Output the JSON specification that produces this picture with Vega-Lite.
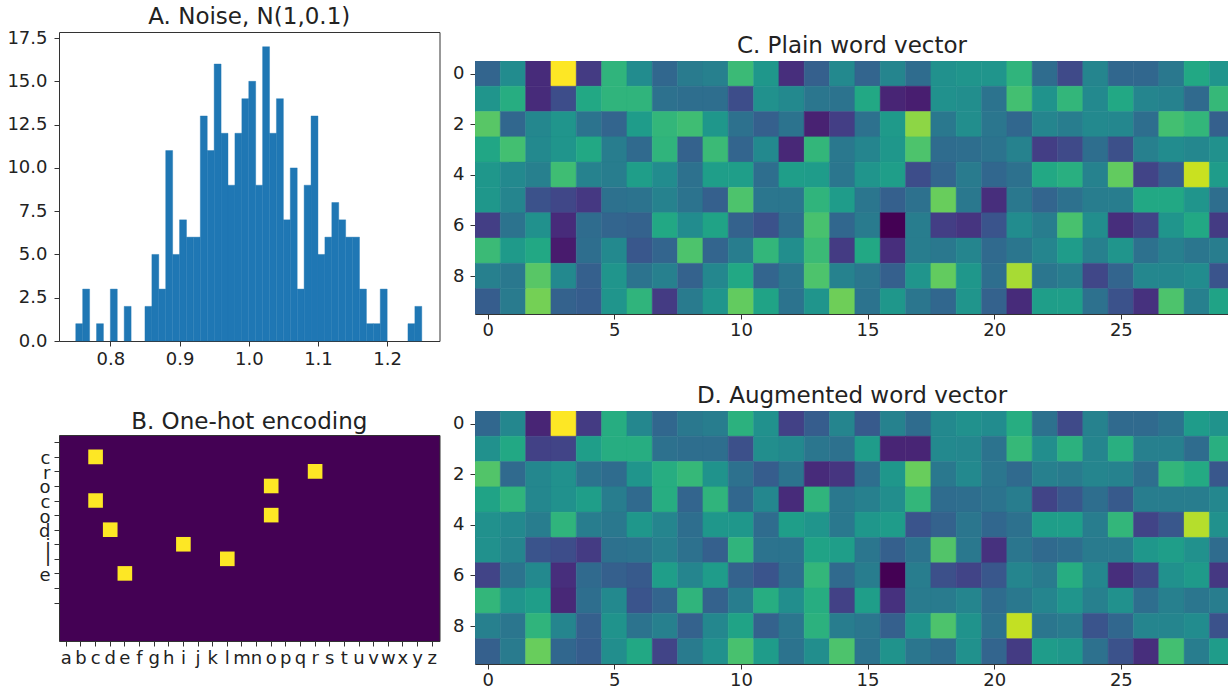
{"$schema":"https://vega.github.io/schema/vega-lite/v6.json","padding":{"left":6,"top":5,"right":0,"bottom":0},"background":"white","spacing":12,"config":{"font":"DejaVu Sans","view":{"stroke":"#333"},"title":{"font":"DejaVu Sans","fontSize":23,"fontWeight":"normal","color":"#222"},"axis":{"grid":false,"title":null,"labelFont":"DejaVu Sans","labelFontSize":18,"labelColor":"#222","tickColor":"#333","domain":false,"tickSize":5,"labelPadding":4,"labelOverlap":false,"labelFlush":false}},
"datasets":{
"hist":[{"x0":0.75,"x1":0.76,"n":1},{"x0":0.76,"x1":0.77,"n":3},{"x0":0.78,"x1":0.79,"n":1},{"x0":0.80,"x1":0.81,"n":3},{"x0":0.82,"x1":0.83,"n":2},{"x0":0.85,"x1":0.86,"n":2},{"x0":0.86,"x1":0.87,"n":5},{"x0":0.87,"x1":0.88,"n":3},{"x0":0.88,"x1":0.89,"n":11},{"x0":0.89,"x1":0.90,"n":5},{"x0":0.90,"x1":0.91,"n":7},{"x0":0.91,"x1":0.92,"n":6},{"x0":0.92,"x1":0.93,"n":6},{"x0":0.93,"x1":0.94,"n":13},{"x0":0.94,"x1":0.95,"n":11},{"x0":0.95,"x1":0.96,"n":16},{"x0":0.96,"x1":0.97,"n":12},{"x0":0.97,"x1":0.98,"n":9},{"x0":0.98,"x1":0.99,"n":12},{"x0":0.99,"x1":1.00,"n":14},{"x0":1.00,"x1":1.01,"n":15},{"x0":1.01,"x1":1.02,"n":9},{"x0":1.02,"x1":1.03,"n":17},{"x0":1.03,"x1":1.04,"n":12},{"x0":1.04,"x1":1.05,"n":14},{"x0":1.05,"x1":1.06,"n":7},{"x0":1.06,"x1":1.07,"n":10},{"x0":1.07,"x1":1.08,"n":3},{"x0":1.08,"x1":1.09,"n":9},{"x0":1.09,"x1":1.10,"n":13},{"x0":1.10,"x1":1.11,"n":5},{"x0":1.11,"x1":1.12,"n":6},{"x0":1.12,"x1":1.13,"n":8},{"x0":1.13,"x1":1.14,"n":7},{"x0":1.14,"x1":1.15,"n":6},{"x0":1.15,"x1":1.16,"n":6},{"x0":1.16,"x1":1.17,"n":3},{"x0":1.17,"x1":1.18,"n":1},{"x0":1.18,"x1":1.19,"n":1},{"x0":1.19,"x1":1.20,"n":3},{"x0":1.23,"x1":1.24,"n":1},{"x0":1.24,"x1":1.25,"n":2}],
"onehot":[{"row":1,"letter":"c","v":1},{"row":2,"letter":"r","v":1},{"row":3,"letter":"o","v":1},{"row":4,"letter":"c","v":1},{"row":5,"letter":"o","v":1},{"row":6,"letter":"d","v":1},{"row":7,"letter":"i","v":1},{"row":8,"letter":"l","v":1},{"row":9,"letter":"e","v":1}],
"plain":[
{"r":0,"c":0,"v":0.32},{"r":0,"c":1,"v":0.48},{"r":0,"c":2,"v":0.12},{"r":0,"c":3,"v":1},{"r":0,"c":4,"v":0.17},{"r":0,"c":5,"v":0.65},{"r":0,"c":6,"v":0.48},{"r":0,"c":7,"v":0.33},{"r":0,"c":8,"v":0.41},{"r":0,"c":9,"v":0.43},{"r":0,"c":10,"v":0.68},{"r":0,"c":11,"v":0.53},{"r":0,"c":12,"v":0.13},{"r":0,"c":13,"v":0.3},{"r":0,"c":14,"v":0.47},{"r":0,"c":15,"v":0.32},{"r":0,"c":16,"v":0.45},{"r":0,"c":17,"v":0.35},{"r":0,"c":18,"v":0.5},{"r":0,"c":19,"v":0.52},{"r":0,"c":20,"v":0.52},{"r":0,"c":21,"v":0.65},{"r":0,"c":22,"v":0.35},{"r":0,"c":23,"v":0.22},{"r":0,"c":24,"v":0.45},{"r":0,"c":25,"v":0.33},{"r":0,"c":26,"v":0.33},{"r":0,"c":27,"v":0.4},{"r":0,"c":28,"v":0.6},{"r":0,"c":29,"v":0.52},
{"r":1,"c":0,"v":0.52},{"r":1,"c":1,"v":0.62},{"r":1,"c":2,"v":0.12},{"r":1,"c":3,"v":0.23},{"r":1,"c":4,"v":0.6},{"r":1,"c":5,"v":0.65},{"r":1,"c":6,"v":0.65},{"r":1,"c":7,"v":0.37},{"r":1,"c":8,"v":0.36},{"r":1,"c":9,"v":0.36},{"r":1,"c":10,"v":0.23},{"r":1,"c":11,"v":0.5},{"r":1,"c":12,"v":0.47},{"r":1,"c":13,"v":0.39},{"r":1,"c":14,"v":0.38},{"r":1,"c":15,"v":0.6},{"r":1,"c":16,"v":0.1},{"r":1,"c":17,"v":0.08},{"r":1,"c":18,"v":0.5},{"r":1,"c":19,"v":0.49},{"r":1,"c":20,"v":0.38},{"r":1,"c":21,"v":0.7},{"r":1,"c":22,"v":0.51},{"r":1,"c":23,"v":0.66},{"r":1,"c":24,"v":0.47},{"r":1,"c":25,"v":0.6},{"r":1,"c":26,"v":0.45},{"r":1,"c":27,"v":0.44},{"r":1,"c":28,"v":0.34},{"r":1,"c":29,"v":0.67},
{"r":2,"c":0,"v":0.74},{"r":2,"c":1,"v":0.33},{"r":2,"c":2,"v":0.46},{"r":2,"c":3,"v":0.52},{"r":2,"c":4,"v":0.38},{"r":2,"c":5,"v":0.32},{"r":2,"c":6,"v":0.55},{"r":2,"c":7,"v":0.66},{"r":2,"c":8,"v":0.69},{"r":2,"c":9,"v":0.53},{"r":2,"c":10,"v":0.37},{"r":2,"c":11,"v":0.3},{"r":2,"c":12,"v":0.38},{"r":2,"c":13,"v":0.09},{"r":2,"c":14,"v":0.18},{"r":2,"c":15,"v":0.37},{"r":2,"c":16,"v":0.54},{"r":2,"c":17,"v":0.83},{"r":2,"c":18,"v":0.4},{"r":2,"c":19,"v":0.49},{"r":2,"c":20,"v":0.39},{"r":2,"c":21,"v":0.33},{"r":2,"c":22,"v":0.45},{"r":2,"c":23,"v":0.42},{"r":2,"c":24,"v":0.47},{"r":2,"c":25,"v":0.46},{"r":2,"c":26,"v":0.36},{"r":2,"c":27,"v":0.7},{"r":2,"c":28,"v":0.66},{"r":2,"c":29,"v":0.3},
{"r":3,"c":0,"v":0.59},{"r":3,"c":1,"v":0.7},{"r":3,"c":2,"v":0.47},{"r":3,"c":3,"v":0.52},{"r":3,"c":4,"v":0.6},{"r":3,"c":5,"v":0.42},{"r":3,"c":6,"v":0.34},{"r":3,"c":7,"v":0.65},{"r":3,"c":8,"v":0.31},{"r":3,"c":9,"v":0.68},{"r":3,"c":10,"v":0.32},{"r":3,"c":11,"v":0.47},{"r":3,"c":12,"v":0.11},{"r":3,"c":13,"v":0.66},{"r":3,"c":14,"v":0.4},{"r":3,"c":15,"v":0.45},{"r":3,"c":16,"v":0.53},{"r":3,"c":17,"v":0.72},{"r":3,"c":18,"v":0.35},{"r":3,"c":19,"v":0.36},{"r":3,"c":20,"v":0.38},{"r":3,"c":21,"v":0.44},{"r":3,"c":22,"v":0.18},{"r":3,"c":23,"v":0.22},{"r":3,"c":24,"v":0.36},{"r":3,"c":25,"v":0.24},{"r":3,"c":26,"v":0.43},{"r":3,"c":27,"v":0.48},{"r":3,"c":28,"v":0.46},{"r":3,"c":29,"v":0.5},
{"r":4,"c":0,"v":0.53},{"r":4,"c":1,"v":0.47},{"r":4,"c":2,"v":0.43},{"r":4,"c":3,"v":0.69},{"r":4,"c":4,"v":0.44},{"r":4,"c":5,"v":0.42},{"r":4,"c":6,"v":0.56},{"r":4,"c":7,"v":0.48},{"r":4,"c":8,"v":0.37},{"r":4,"c":9,"v":0.56},{"r":4,"c":10,"v":0.56},{"r":4,"c":11,"v":0.36},{"r":4,"c":12,"v":0.56},{"r":4,"c":13,"v":0.55},{"r":4,"c":14,"v":0.39},{"r":4,"c":15,"v":0.52},{"r":4,"c":16,"v":0.56},{"r":4,"c":17,"v":0.23},{"r":4,"c":18,"v":0.32},{"r":4,"c":19,"v":0.41},{"r":4,"c":20,"v":0.33},{"r":4,"c":21,"v":0.37},{"r":4,"c":22,"v":0.6},{"r":4,"c":23,"v":0.63},{"r":4,"c":24,"v":0.44},{"r":4,"c":25,"v":0.76},{"r":4,"c":26,"v":0.2},{"r":4,"c":27,"v":0.29},{"r":4,"c":28,"v":0.92},{"r":4,"c":29,"v":0.55},
{"r":5,"c":0,"v":0.53},{"r":5,"c":1,"v":0.45},{"r":5,"c":2,"v":0.25},{"r":5,"c":3,"v":0.21},{"r":5,"c":4,"v":0.16},{"r":5,"c":5,"v":0.37},{"r":5,"c":6,"v":0.38},{"r":5,"c":7,"v":0.44},{"r":5,"c":8,"v":0.38},{"r":5,"c":9,"v":0.3},{"r":5,"c":10,"v":0.72},{"r":5,"c":11,"v":0.39},{"r":5,"c":12,"v":0.39},{"r":5,"c":13,"v":0.65},{"r":5,"c":14,"v":0.55},{"r":5,"c":15,"v":0.39},{"r":5,"c":16,"v":0.3},{"r":5,"c":17,"v":0.37},{"r":5,"c":18,"v":0.77},{"r":5,"c":19,"v":0.4},{"r":5,"c":20,"v":0.13},{"r":5,"c":21,"v":0.4},{"r":5,"c":22,"v":0.32},{"r":5,"c":23,"v":0.37},{"r":5,"c":24,"v":0.42},{"r":5,"c":25,"v":0.42},{"r":5,"c":26,"v":0.6},{"r":5,"c":27,"v":0.6},{"r":5,"c":28,"v":0.52},{"r":5,"c":29,"v":0.36},
{"r":6,"c":0,"v":0.18},{"r":6,"c":1,"v":0.38},{"r":6,"c":2,"v":0.5},{"r":6,"c":3,"v":0.12},{"r":6,"c":4,"v":0.35},{"r":6,"c":5,"v":0.32},{"r":6,"c":6,"v":0.31},{"r":6,"c":7,"v":0.6},{"r":6,"c":8,"v":0.48},{"r":6,"c":9,"v":0.58},{"r":6,"c":10,"v":0.31},{"r":6,"c":11,"v":0.25},{"r":6,"c":12,"v":0.36},{"r":6,"c":13,"v":0.71},{"r":6,"c":14,"v":0.33},{"r":6,"c":15,"v":0.41},{"r":6,"c":16,"v":0},{"r":6,"c":17,"v":0.42},{"r":6,"c":18,"v":0.18},{"r":6,"c":19,"v":0.15},{"r":6,"c":20,"v":0.26},{"r":6,"c":21,"v":0.48},{"r":6,"c":22,"v":0.42},{"r":6,"c":23,"v":0.71},{"r":6,"c":24,"v":0.49},{"r":6,"c":25,"v":0.13},{"r":6,"c":26,"v":0.2},{"r":6,"c":27,"v":0.52},{"r":6,"c":28,"v":0.6},{"r":6,"c":29,"v":0.17},
{"r":7,"c":0,"v":0.68},{"r":7,"c":1,"v":0.54},{"r":7,"c":2,"v":0.6},{"r":7,"c":3,"v":0.07},{"r":7,"c":4,"v":0.36},{"r":7,"c":5,"v":0.47},{"r":7,"c":6,"v":0.27},{"r":7,"c":7,"v":0.32},{"r":7,"c":8,"v":0.72},{"r":7,"c":9,"v":0.32},{"r":7,"c":10,"v":0.42},{"r":7,"c":11,"v":0.66},{"r":7,"c":12,"v":0.49},{"r":7,"c":13,"v":0.68},{"r":7,"c":14,"v":0.17},{"r":7,"c":15,"v":0.6},{"r":7,"c":16,"v":0.13},{"r":7,"c":17,"v":0.42},{"r":7,"c":18,"v":0.4},{"r":7,"c":19,"v":0.45},{"r":7,"c":20,"v":0.34},{"r":7,"c":21,"v":0.39},{"r":7,"c":22,"v":0.45},{"r":7,"c":23,"v":0.55},{"r":7,"c":24,"v":0.43},{"r":7,"c":25,"v":0.52},{"r":7,"c":26,"v":0.37},{"r":7,"c":27,"v":0.43},{"r":7,"c":28,"v":0.39},{"r":7,"c":29,"v":0.42},
{"r":8,"c":0,"v":0.43},{"r":8,"c":1,"v":0.4},{"r":8,"c":2,"v":0.74},{"r":8,"c":3,"v":0.47},{"r":8,"c":4,"v":0.3},{"r":8,"c":5,"v":0.52},{"r":8,"c":6,"v":0.38},{"r":8,"c":7,"v":0.43},{"r":8,"c":8,"v":0.31},{"r":8,"c":9,"v":0.46},{"r":8,"c":10,"v":0.6},{"r":8,"c":11,"v":0.32},{"r":8,"c":12,"v":0.39},{"r":8,"c":13,"v":0.72},{"r":8,"c":14,"v":0.44},{"r":8,"c":15,"v":0.39},{"r":8,"c":16,"v":0.3},{"r":8,"c":17,"v":0.52},{"r":8,"c":18,"v":0.76},{"r":8,"c":19,"v":0.53},{"r":8,"c":20,"v":0.36},{"r":8,"c":21,"v":0.87},{"r":8,"c":22,"v":0.39},{"r":8,"c":23,"v":0.42},{"r":8,"c":24,"v":0.21},{"r":8,"c":25,"v":0.32},{"r":8,"c":26,"v":0.46},{"r":8,"c":27,"v":0.46},{"r":8,"c":28,"v":0.48},{"r":8,"c":29,"v":0.26},
{"r":9,"c":0,"v":0.29},{"r":9,"c":1,"v":0.41},{"r":9,"c":2,"v":0.79},{"r":9,"c":3,"v":0.31},{"r":9,"c":4,"v":0.29},{"r":9,"c":5,"v":0.52},{"r":9,"c":6,"v":0.65},{"r":9,"c":7,"v":0.17},{"r":9,"c":8,"v":0.41},{"r":9,"c":9,"v":0.52},{"r":9,"c":10,"v":0.76},{"r":9,"c":11,"v":0.58},{"r":9,"c":12,"v":0.38},{"r":9,"c":13,"v":0.52},{"r":9,"c":14,"v":0.78},{"r":9,"c":15,"v":0.38},{"r":9,"c":16,"v":0.53},{"r":9,"c":17,"v":0.39},{"r":9,"c":18,"v":0.33},{"r":9,"c":19,"v":0.52},{"r":9,"c":20,"v":0.31},{"r":9,"c":21,"v":0.12},{"r":9,"c":22,"v":0.56},{"r":9,"c":23,"v":0.56},{"r":9,"c":24,"v":0.37},{"r":9,"c":25,"v":0.25},{"r":9,"c":26,"v":0.14},{"r":9,"c":27,"v":0.72},{"r":9,"c":28,"v":0.43},{"r":9,"c":29,"v":0.58}],
"aug":[
{"r":0,"c":0,"v":0.33},{"r":0,"c":1,"v":0.46},{"r":0,"c":2,"v":0.1},{"r":0,"c":3,"v":1},{"r":0,"c":4,"v":0.17},{"r":0,"c":5,"v":0.62},{"r":0,"c":6,"v":0.46},{"r":0,"c":7,"v":0.33},{"r":0,"c":8,"v":0.4},{"r":0,"c":9,"v":0.42},{"r":0,"c":10,"v":0.64},{"r":0,"c":11,"v":0.5},{"r":0,"c":12,"v":0.19},{"r":0,"c":13,"v":0.29},{"r":0,"c":14,"v":0.45},{"r":0,"c":15,"v":0.28},{"r":0,"c":16,"v":0.44},{"r":0,"c":17,"v":0.35},{"r":0,"c":18,"v":0.47},{"r":0,"c":19,"v":0.5},{"r":0,"c":20,"v":0.48},{"r":0,"c":21,"v":0.62},{"r":0,"c":22,"v":0.37},{"r":0,"c":23,"v":0.22},{"r":0,"c":24,"v":0.44},{"r":0,"c":25,"v":0.34},{"r":0,"c":26,"v":0.34},{"r":0,"c":27,"v":0.38},{"r":0,"c":28,"v":0.55},{"r":0,"c":29,"v":0.51},
{"r":1,"c":0,"v":0.5},{"r":1,"c":1,"v":0.6},{"r":1,"c":2,"v":0.19},{"r":1,"c":3,"v":0.2},{"r":1,"c":4,"v":0.56},{"r":1,"c":5,"v":0.62},{"r":1,"c":6,"v":0.62},{"r":1,"c":7,"v":0.37},{"r":1,"c":8,"v":0.36},{"r":1,"c":9,"v":0.36},{"r":1,"c":10,"v":0.24},{"r":1,"c":11,"v":0.49},{"r":1,"c":12,"v":0.47},{"r":1,"c":13,"v":0.39},{"r":1,"c":14,"v":0.37},{"r":1,"c":15,"v":0.55},{"r":1,"c":16,"v":0.1},{"r":1,"c":17,"v":0.1},{"r":1,"c":18,"v":0.47},{"r":1,"c":19,"v":0.46},{"r":1,"c":20,"v":0.38},{"r":1,"c":21,"v":0.67},{"r":1,"c":22,"v":0.49},{"r":1,"c":23,"v":0.64},{"r":1,"c":24,"v":0.45},{"r":1,"c":25,"v":0.63},{"r":1,"c":26,"v":0.43},{"r":1,"c":27,"v":0.43},{"r":1,"c":28,"v":0.35},{"r":1,"c":29,"v":0.63},
{"r":2,"c":0,"v":0.73},{"r":2,"c":1,"v":0.34},{"r":2,"c":2,"v":0.46},{"r":2,"c":3,"v":0.5},{"r":2,"c":4,"v":0.38},{"r":2,"c":5,"v":0.35},{"r":2,"c":6,"v":0.52},{"r":2,"c":7,"v":0.62},{"r":2,"c":8,"v":0.67},{"r":2,"c":9,"v":0.51},{"r":2,"c":10,"v":0.37},{"r":2,"c":11,"v":0.29},{"r":2,"c":12,"v":0.38},{"r":2,"c":13,"v":0.12},{"r":2,"c":14,"v":0.15},{"r":2,"c":15,"v":0.36},{"r":2,"c":16,"v":0.53},{"r":2,"c":17,"v":0.77},{"r":2,"c":18,"v":0.4},{"r":2,"c":19,"v":0.47},{"r":2,"c":20,"v":0.39},{"r":2,"c":21,"v":0.34},{"r":2,"c":22,"v":0.43},{"r":2,"c":23,"v":0.41},{"r":2,"c":24,"v":0.45},{"r":2,"c":25,"v":0.44},{"r":2,"c":26,"v":0.36},{"r":2,"c":27,"v":0.66},{"r":2,"c":28,"v":0.61},{"r":2,"c":29,"v":0.27},
{"r":3,"c":0,"v":0.58},{"r":3,"c":1,"v":0.65},{"r":3,"c":2,"v":0.46},{"r":3,"c":3,"v":0.5},{"r":3,"c":4,"v":0.56},{"r":3,"c":5,"v":0.42},{"r":3,"c":6,"v":0.34},{"r":3,"c":7,"v":0.62},{"r":3,"c":8,"v":0.32},{"r":3,"c":9,"v":0.65},{"r":3,"c":10,"v":0.33},{"r":3,"c":11,"v":0.46},{"r":3,"c":12,"v":0.12},{"r":3,"c":13,"v":0.65},{"r":3,"c":14,"v":0.4},{"r":3,"c":15,"v":0.43},{"r":3,"c":16,"v":0.49},{"r":3,"c":17,"v":0.66},{"r":3,"c":18,"v":0.35},{"r":3,"c":19,"v":0.36},{"r":3,"c":20,"v":0.38},{"r":3,"c":21,"v":0.42},{"r":3,"c":22,"v":0.2},{"r":3,"c":23,"v":0.27},{"r":3,"c":24,"v":0.36},{"r":3,"c":25,"v":0.28},{"r":3,"c":26,"v":0.42},{"r":3,"c":27,"v":0.42},{"r":3,"c":28,"v":0.42},{"r":3,"c":29,"v":0.46},
{"r":4,"c":0,"v":0.5},{"r":4,"c":1,"v":0.47},{"r":4,"c":2,"v":0.42},{"r":4,"c":3,"v":0.65},{"r":4,"c":4,"v":0.42},{"r":4,"c":5,"v":0.4},{"r":4,"c":6,"v":0.53},{"r":4,"c":7,"v":0.45},{"r":4,"c":8,"v":0.36},{"r":4,"c":9,"v":0.53},{"r":4,"c":10,"v":0.53},{"r":4,"c":11,"v":0.35},{"r":4,"c":12,"v":0.56},{"r":4,"c":13,"v":0.52},{"r":4,"c":14,"v":0.4},{"r":4,"c":15,"v":0.53},{"r":4,"c":16,"v":0.55},{"r":4,"c":17,"v":0.26},{"r":4,"c":18,"v":0.31},{"r":4,"c":19,"v":0.39},{"r":4,"c":20,"v":0.33},{"r":4,"c":21,"v":0.37},{"r":4,"c":22,"v":0.56},{"r":4,"c":23,"v":0.56},{"r":4,"c":24,"v":0.42},{"r":4,"c":25,"v":0.66},{"r":4,"c":26,"v":0.2},{"r":4,"c":27,"v":0.27},{"r":4,"c":28,"v":0.89},{"r":4,"c":29,"v":0.5},
{"r":5,"c":0,"v":0.5},{"r":5,"c":1,"v":0.45},{"r":5,"c":2,"v":0.26},{"r":5,"c":3,"v":0.23},{"r":5,"c":4,"v":0.17},{"r":5,"c":5,"v":0.37},{"r":5,"c":6,"v":0.38},{"r":5,"c":7,"v":0.43},{"r":5,"c":8,"v":0.37},{"r":5,"c":9,"v":0.3},{"r":5,"c":10,"v":0.65},{"r":5,"c":11,"v":0.38},{"r":5,"c":12,"v":0.38},{"r":5,"c":13,"v":0.58},{"r":5,"c":14,"v":0.56},{"r":5,"c":15,"v":0.39},{"r":5,"c":16,"v":0.3},{"r":5,"c":17,"v":0.38},{"r":5,"c":18,"v":0.73},{"r":5,"c":19,"v":0.4},{"r":5,"c":20,"v":0.14},{"r":5,"c":21,"v":0.39},{"r":5,"c":22,"v":0.34},{"r":5,"c":23,"v":0.36},{"r":5,"c":24,"v":0.41},{"r":5,"c":25,"v":0.41},{"r":5,"c":26,"v":0.53},{"r":5,"c":27,"v":0.56},{"r":5,"c":28,"v":0.5},{"r":5,"c":29,"v":0.35},
{"r":6,"c":0,"v":0.2},{"r":6,"c":1,"v":0.38},{"r":6,"c":2,"v":0.47},{"r":6,"c":3,"v":0.13},{"r":6,"c":4,"v":0.34},{"r":6,"c":5,"v":0.3},{"r":6,"c":6,"v":0.28},{"r":6,"c":7,"v":0.56},{"r":6,"c":8,"v":0.45},{"r":6,"c":9,"v":0.55},{"r":6,"c":10,"v":0.31},{"r":6,"c":11,"v":0.26},{"r":6,"c":12,"v":0.36},{"r":6,"c":13,"v":0.66},{"r":6,"c":14,"v":0.34},{"r":6,"c":15,"v":0.42},{"r":6,"c":16,"v":0},{"r":6,"c":17,"v":0.42},{"r":6,"c":18,"v":0.24},{"r":6,"c":19,"v":0.2},{"r":6,"c":20,"v":0.27},{"r":6,"c":21,"v":0.45},{"r":6,"c":22,"v":0.41},{"r":6,"c":23,"v":0.62},{"r":6,"c":24,"v":0.46},{"r":6,"c":25,"v":0.13},{"r":6,"c":26,"v":0.21},{"r":6,"c":27,"v":0.5},{"r":6,"c":28,"v":0.54},{"r":6,"c":29,"v":0.16},
{"r":7,"c":0,"v":0.66},{"r":7,"c":1,"v":0.52},{"r":7,"c":2,"v":0.56},{"r":7,"c":3,"v":0.11},{"r":7,"c":4,"v":0.36},{"r":7,"c":5,"v":0.47},{"r":7,"c":6,"v":0.26},{"r":7,"c":7,"v":0.32},{"r":7,"c":8,"v":0.65},{"r":7,"c":9,"v":0.31},{"r":7,"c":10,"v":0.42},{"r":7,"c":11,"v":0.62},{"r":7,"c":12,"v":0.49},{"r":7,"c":13,"v":0.62},{"r":7,"c":14,"v":0.19},{"r":7,"c":15,"v":0.56},{"r":7,"c":16,"v":0.14},{"r":7,"c":17,"v":0.41},{"r":7,"c":18,"v":0.41},{"r":7,"c":19,"v":0.45},{"r":7,"c":20,"v":0.35},{"r":7,"c":21,"v":0.4},{"r":7,"c":22,"v":0.45},{"r":7,"c":23,"v":0.52},{"r":7,"c":24,"v":0.43},{"r":7,"c":25,"v":0.5},{"r":7,"c":26,"v":0.36},{"r":7,"c":27,"v":0.43},{"r":7,"c":28,"v":0.39},{"r":7,"c":29,"v":0.42},
{"r":8,"c":0,"v":0.43},{"r":8,"c":1,"v":0.39},{"r":8,"c":2,"v":0.65},{"r":8,"c":3,"v":0.45},{"r":8,"c":4,"v":0.3},{"r":8,"c":5,"v":0.51},{"r":8,"c":6,"v":0.38},{"r":8,"c":7,"v":0.43},{"r":8,"c":8,"v":0.31},{"r":8,"c":9,"v":0.46},{"r":8,"c":10,"v":0.58},{"r":8,"c":11,"v":0.31},{"r":8,"c":12,"v":0.39},{"r":8,"c":13,"v":0.64},{"r":8,"c":14,"v":0.42},{"r":8,"c":15,"v":0.39},{"r":8,"c":16,"v":0.3},{"r":8,"c":17,"v":0.51},{"r":8,"c":18,"v":0.72},{"r":8,"c":19,"v":0.51},{"r":8,"c":20,"v":0.37},{"r":8,"c":21,"v":0.91},{"r":8,"c":22,"v":0.39},{"r":8,"c":23,"v":0.41},{"r":8,"c":24,"v":0.26},{"r":8,"c":25,"v":0.33},{"r":8,"c":26,"v":0.45},{"r":8,"c":27,"v":0.45},{"r":8,"c":28,"v":0.48},{"r":8,"c":29,"v":0.25},
{"r":9,"c":0,"v":0.3},{"r":9,"c":1,"v":0.41},{"r":9,"c":2,"v":0.77},{"r":9,"c":3,"v":0.33},{"r":9,"c":4,"v":0.29},{"r":9,"c":5,"v":0.49},{"r":9,"c":6,"v":0.6},{"r":9,"c":7,"v":0.2},{"r":9,"c":8,"v":0.41},{"r":9,"c":9,"v":0.5},{"r":9,"c":10,"v":0.71},{"r":9,"c":11,"v":0.55},{"r":9,"c":12,"v":0.38},{"r":9,"c":13,"v":0.49},{"r":9,"c":14,"v":0.72},{"r":9,"c":15,"v":0.38},{"r":9,"c":16,"v":0.51},{"r":9,"c":17,"v":0.39},{"r":9,"c":18,"v":0.35},{"r":9,"c":19,"v":0.5},{"r":9,"c":20,"v":0.32},{"r":9,"c":21,"v":0.17},{"r":9,"c":22,"v":0.55},{"r":9,"c":23,"v":0.53},{"r":9,"c":24,"v":0.37},{"r":9,"c":25,"v":0.25},{"r":9,"c":26,"v":0.13},{"r":9,"c":27,"v":0.7},{"r":9,"c":28,"v":0.42},{"r":9,"c":29,"v":0.55}]
},
"hconcat":[
{"bounds":"flush","spacing":94,"vconcat":[
{"title":{"text":"A. Noise, N(1,0.1)","offset":0.01},"width":380.5,"height":309,"data":{"name":"hist"},"mark":{"type":"rect","fill":"#1f77b4","stroke":"#1f77b4","strokeWidth":0.4},"encoding":{"x":{"field":"x0","type":"quantitative","scale":{"domain":[0.7258,1.2756],"nice":false,"zero":false},"axis":{"values":[0.8,0.9,1.0,1.1,1.2],"format":".1f"}},"x2":{"field":"x1"},"y":{"field":"n","type":"quantitative","scale":{"domain":[0,17.85],"nice":false},"axis":{"values":[0,2.5,5,7.5,10,12.5,15,17.5],"format":".1f","labelPadding":7}}}},
{"title":{"text":"B. One-hot encoding","offset":1},"width":380.5,"height":206,"view":{"fill":"#440154"},"data":{"name":"onehot"},"mark":{"type":"rect","height":14.6},"encoding":{"x":{"field":"letter","type":"nominal","sort":null,"scale":{"domain":["a","b","c","d","e","f","g","h","i","j","k","l","m","n","o","p","q","r","s","t","u","v","w","x","y","z"],"paddingInner":0,"paddingOuter":0},"axis":{"labelAngle":0,"labelPadding":3}},"y":{"field":"row","type":"quantitative","scale":{"domain":[-0.5,13.64],"reverse":true,"nice":false,"zero":false},"axis":{"values":[0,1,2,3,4,5,6,7,8,9,10,11],"labelExpr":"['','c','r','o','c','o','d','i','l','e','',''][datum.value]","labelOffset":2,"labelPadding":4}},"color":{"field":"v","type":"quantitative","legend":null,"scale":{"scheme":"viridis","domain":[0,1]}}}}
]},
{"spacing":44,"vconcat":[
{"spacing":1,"vconcat":[
{"width":754,"height":1,"view":{"stroke":null},"data":{"values":[]},"mark":"rect","encoding":{}},
{"title":{"text":"C. Plain word vector","offset":3},"width":754,"height":253,"data":{"name":"plain"},"mark":{"type":"rect","width":25.5,"height":25.5,"clip":true,"strokeWidth":0.4},"encoding":{"x":{"field":"c","type":"quantitative","scale":{"domain":[-0.5,29.27],"nice":false,"zero":false},"axis":{"values":[0,5,10,15,20,25],"format":"d","labelPadding":2}},"y":{"field":"r","type":"quantitative","scale":{"domain":[-0.5,9.5],"reverse":true,"nice":false,"zero":false},"axis":{"values":[0,2,4,6,8],"format":"d","labelPadding":6}},"color":{"field":"v","type":"quantitative","legend":null,"scale":{"scheme":"viridis","domain":[0,1]}},"stroke":{"field":"v","type":"quantitative","legend":null,"scale":{"scheme":"viridis","domain":[0,1]}}}}
]},
{"title":{"text":"D. Augmented word vector","offset":3},"width":754,"height":253,"data":{"name":"aug"},"mark":{"type":"rect","width":25.5,"height":25.5,"clip":true,"strokeWidth":0.4},"encoding":{"x":{"field":"c","type":"quantitative","scale":{"domain":[-0.5,29.27],"nice":false,"zero":false},"axis":{"values":[0,5,10,15,20,25],"format":"d","labelPadding":2}},"y":{"field":"r","type":"quantitative","scale":{"domain":[-0.5,9.5],"reverse":true,"nice":false,"zero":false},"axis":{"values":[0,2,4,6,8],"format":"d","labelPadding":6}},"color":{"field":"v","type":"quantitative","legend":null,"scale":{"scheme":"viridis","domain":[0,1]}},"stroke":{"field":"v","type":"quantitative","legend":null,"scale":{"scheme":"viridis","domain":[0,1]}}}}
]}
]}
